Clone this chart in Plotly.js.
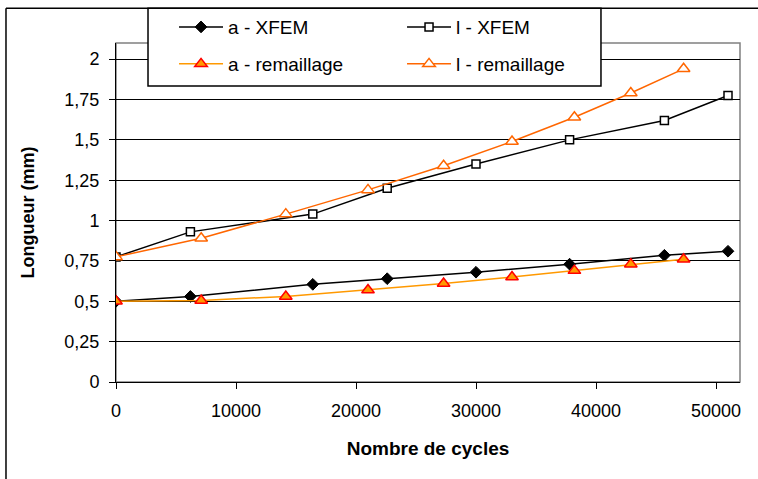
<!DOCTYPE html>
<html>
<head>
<meta charset="utf-8">
<script src="https://cdn.plot.ly/plotly-3.0.1.min.js"></script>
<style>html,body{margin:0;padding:0;background:#fff;}#chart{width:758px;height:479px;}</style>
</head>
<body>
<div id="chart"></div>
<script>
// Data
var cyclesXFEM = [0, 6200, 16400, 22600, 30000, 37800, 45700, 51000];
var aXFEM = [0.5, 0.53, 0.605, 0.64, 0.68, 0.73, 0.785, 0.81];
var lXFEM = [0.775, 0.93, 1.04, 1.2, 1.35, 1.5, 1.62, 1.775];

var cyclesRem = [0, 7100, 14150, 21000, 27300, 33000, 38200, 42900, 47300];
var aRem = [0.5, 0.505, 0.53, 0.57, 0.61, 0.65, 0.69, 0.73, 0.76];
var lRem = [0.775, 0.89, 1.04, 1.19, 1.34, 1.49, 1.64, 1.79, 1.94];

var names = ['a - XFEM', 'l - XFEM', 'a - remaillage', 'l - remaillage'];
var yTickVals = [0, 0.25, 0.5, 0.75, 1, 1.25, 1.5, 1.75, 2];
var yTickText = ['0', '0,25', '0,5', '0,75', '1', '1,25', '1,5', '1,75', '2'];
var xTickVals = [0, 10000, 20000, 30000, 40000, 50000];
var xTickText = ['0', '10000', '20000', '30000', '40000', '50000'];

var FONT = 'Liberation Sans, Arial, sans-serif';

var traces = [
  {x: cyclesXFEM, y: aXFEM, name: names[0], mode: 'lines+markers', legend: 'legend',
   line: {color: '#000000', width: 1.5},
   marker: {symbol: 'diamond', size: 9, color: '#000000', line: {color: '#000000', width: 1}}},
  {x: cyclesXFEM, y: lXFEM, name: names[1], mode: 'lines+markers', legend: 'legend',
   line: {color: '#000000', width: 1.5},
   marker: {symbol: 'square', size: 8, color: '#ffffff', line: {color: '#000000', width: 1.5}}},
  {x: cyclesRem, y: aRem, name: names[2], mode: 'lines+markers', legend: 'legend2',
   line: {color: '#FF9900', width: 1.5},
   marker: {symbol: 'triangle-up', size: 11, color: '#FF9900', line: {color: '#FF0000', width: 1.5}}},
  {x: cyclesRem, y: lRem, name: names[3], mode: 'lines+markers', legend: 'legend2',
   line: {color: '#FF6600', width: 1.5},
   marker: {symbol: 'triangle-up', size: 11, color: '#ffffff', line: {color: '#FF6600', width: 1.5}}}
];

var legendCommon = {
  orientation: 'h', xanchor: 'left', yanchor: 'middle', x: 0.093,
  bgcolor: 'rgba(0,0,0,0)', borderwidth: 0, itemwidth: 44, entrywidth: 169,
  font: {family: FONT, size: 19, color: '#000'}
};

var layout = {
  width: 758, height: 479,
  margin: {l: 116, r: 18, t: 43, b: 97, autoexpand: false},
  paper_bgcolor: '#ffffff', plot_bgcolor: '#ffffff',
  font: {family: FONT, size: 18, color: '#000'},
  showlegend: true,
  legend: Object.assign({}, legendCommon, {y: 1.047}),
  legend2: Object.assign({}, legendCommon, {y: 0.938}),
  xaxis: {
    range: [0, 52000], tickmode: 'array', tickvals: xTickVals, ticktext: xTickText,
    ticks: 'outside', ticklen: 6, tickcolor: '#000', showgrid: false, zeroline: false,
    showline: true, linecolor: '#000', linewidth: 1,
    tickfont: {family: FONT, size: 18, color: '#000'}, ticklabelstandoff: 6,
    title: {text: '<b>Nombre de cycles</b>', font: {family: FONT, size: 19, color: '#000'}, standoff: 22},
    automargin: true
  },
  yaxis: {
    range: [0, 2.1], tickmode: 'array', tickvals: yTickVals, ticktext: yTickText,
    ticks: 'outside', ticklen: 6, tickcolor: '#000', showgrid: true, gridcolor: '#000', gridwidth: 1,
    zeroline: false, showline: true, linecolor: '#000', linewidth: 1,
    tickfont: {family: FONT, size: 18, color: '#000'}, ticklabelstandoff: 6,
    title: {text: '<b>Longueur (mm)</b>', font: {family: FONT, size: 18, color: '#000'}, standoff: 25},
    automargin: true
  },
  shapes: [
    {type: 'rect', xref: 'paper', yref: 'paper', x0: 0, x1: 1, y0: 0, y1: 1,
     line: {color: '#808080', width: 1.5}, layer: 'below'},
    {type: 'rect', xref: 'paper', yref: 'paper', x0: 0.0513, x1: 0.7772, y0: 0.873, y1: 1.1027,
     fillcolor: '#ffffff', line: {color: '#000000', width: 1.5}, layer: 'above'},
    {type: 'line', xref: 'paper', yref: 'paper', x0: -0.1763, x1: -0.1763, y0: -0.3, y1: 1.1027,
     line: {color: '#000000', width: 1.5}},
    {type: 'line', xref: 'paper', yref: 'paper', x0: -0.1763, x1: 1.05, y0: 1.1027, y1: 1.1027,
     line: {color: '#000000', width: 1.5}}
  ]
};

Plotly.newPlot('chart', traces, layout, {displayModeBar: false, staticPlot: true});
</script>
</body>
</html>
